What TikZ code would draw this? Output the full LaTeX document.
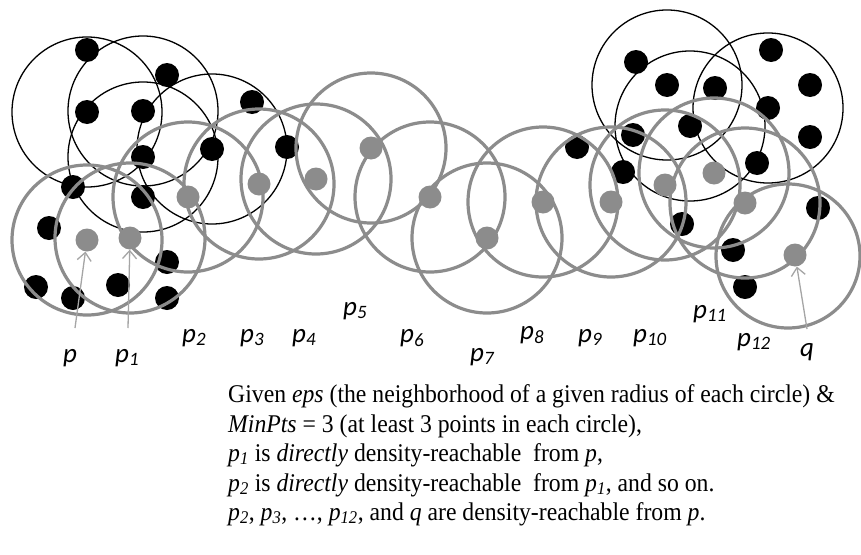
\documentclass[tikz,border=0pt]{standalone}
\usepackage{fontspec}
\setmainfont{Liberation Serif}
\newfontfamily\captfont{Liberation Serif}[FakeStretch=0.93]
\newfontfamily\lblfont{Carlito}
\usetikzlibrary{arrows.meta}
\definecolor{cgray}{RGB}{140,140,140}
\definecolor{agray}{RGB}{165,165,165}
\newcommand{\ps}[1]{\textit{p}\textsubscript{\textit{#1}}}
\newcommand{\lp}[1]{p\textsubscript{#1}}
\begin{document}
\begin{tikzpicture}[x=1pt,y=-1pt,
  gcirc/.style={draw=cgray,line width=3.2pt},
  bcirc/.style={draw=black,line width=1.3pt},
  gdot/.style={circle,fill=cgray,inner sep=0pt,minimum size=23pt},
  bdot/.style={circle,fill=black,inner sep=0pt,minimum size=24pt},
  lbl/.style={anchor=base west,inner sep=0pt,font=\lblfont\itshape\fontsize{27}{30}\selectfont},
  captline/.style={anchor=base west,inner sep=0pt,font=\captfont\fontsize{25.5}{30}\selectfont},
  arr/.style={draw=agray,line width=1.3pt,-{Straight Barb[length=8pt,width=14pt]}}]
\useasboundingbox[fill=white] (0,0) rectangle (861,554);

% black points (left cluster)
\node[bdot] (b1) at (87,50) {};
\node[bdot] (b2) at (167,75) {};
\node[bdot] (bA) at (87,112) {};
\node[bdot] (bB) at (143,111) {};
\node[bdot] (bD) at (143,157) {};
\node[bdot] (bC) at (212,149) {};
\node[bdot] (b3) at (252,102) {};
\node[bdot] (b4) at (287,147) {};
\node[bdot] (b5) at (73,187) {};
\node[bdot] (b6) at (143,197) {};
\node[bdot] (b7) at (49,228) {};
\node[bdot] (b8) at (167,262) {};
\node[bdot] (b9) at (36,287) {};
\node[bdot] (b10) at (73,298) {};
\node[bdot] (b11) at (118,285) {};
\node[bdot] (b12) at (167,298) {};
% black points (right cluster)
\node[bdot] (c1) at (577,147) {};
\node[bdot] (c2) at (633,135) {};
\node[bdot] (c3) at (623,172) {};
\node[bdot] (c4) at (636,62) {};
\node[bdot] (bE) at (667,85) {};
\node[bdot] (c5) at (715,88) {};
\node[bdot] (bF) at (690,126) {};
\node[bdot] (c6) at (771,50) {};
\node[bdot] (c7) at (810,85) {};
\node[bdot] (bG) at (768,108) {};
\node[bdot] (c8) at (810,137) {};
\node[bdot] (c9) at (757,163) {};
\node[bdot] (c10) at (682,224) {};
\node[bdot] (c11) at (733,250) {};
\node[bdot] (c12) at (745,287) {};
\node[bdot] (c13) at (818,208) {};

% black circles
\foreach \c in {bA,bB,bD,bC,bE,bF,bG}
  \draw[bcirc] (\c.center) circle (75pt);

% gray points
\node[gdot] (p) at (87,240) {};
\node[gdot] (p1) at (130,238) {};
\node[gdot] (p2) at (188,197) {};
\node[gdot] (p3) at (259,184) {};
\node[gdot] (p4) at (316,179) {};
\node[gdot] (p5) at (371,148) {};
\node[gdot] (p6) at (430,197) {};
\node[gdot] (p7) at (487,238) {};
\node[gdot] (p8) at (543,202) {};
\node[gdot] (p9) at (611,202) {};
\node[gdot] (p10) at (665,185) {};
\node[gdot] (p11) at (714,173) {};
\node[gdot] (p12) at (745,203) {};
\node[gdot] (q) at (795,255) {};
\coordinate (qc) at (788,256);

% gray circles
\foreach \c in {p,p1,p2,p3,p4,p5,p6,p7,p8,p9,p10,p11,p12}
  \draw[gcirc] (\c.center) circle (75pt);
\draw[gcirc] (qc) circle (72pt);

% arrows
\coordinate (ap) at (75,328);
\coordinate (ap1) at (128,328);
\coordinate (aq) at (807,329);
\draw[arr] (ap) -- (p);
\draw[arr] (ap1) -- (p1);
\draw[arr] (aq) -- (q);

% labels
\node[lbl] (lp) at (63,362) {p};
\node[lbl] (lp1) at (115,362) {\lp{1}};
\node[lbl] (lp2) at (182,342) {\lp{2}};
\node[lbl] (lp3) at (240,342) {\lp{3}};
\node[lbl] (lp4) at (292,342) {\lp{4}};
\node[lbl] (lp5) at (343,315) {\lp{5}};
\node[lbl] (lp6) at (400,342) {\lp{6}};
\node[lbl] (lp7) at (470,361) {\lp{7}};
\node[lbl] (lp8) at (520,339) {\lp{8}};
\node[lbl] (lp9) at (578,342) {\lp{9}};
\node[lbl] (lp10) at (633,342) {\lp{10}};
\node[lbl] (lp11) at (693,318) {\lp{11}};
\node[lbl] (lp12) at (737,346) {\lp{12}};
\node[lbl] (lq) at (800,356) {q};

% caption text
\node[captline] (t1) at (228,402) {Given \textit{eps} (the neighborhood of a given radius of each circle) \&};
\node[captline] (t2) at (228,432) {\textit{MinPts} = 3 (at least 3 points in each circle),};
\node[captline] (t3) at (228,461) {\ps{1} is \textit{directly} density-reachable\ \ from \textit{p},};
\node[captline] (t4) at (228,491) {\ps{2} is \textit{directly} density-reachable\ \ from \ps{1}, and so on.};
\node[captline] (t5) at (228,520) {\ps{2}, \ps{3}, \ldots, \ps{12}, and \textit{q} are density-reachable from \textit{p}.};
\end{tikzpicture}
\end{document}
